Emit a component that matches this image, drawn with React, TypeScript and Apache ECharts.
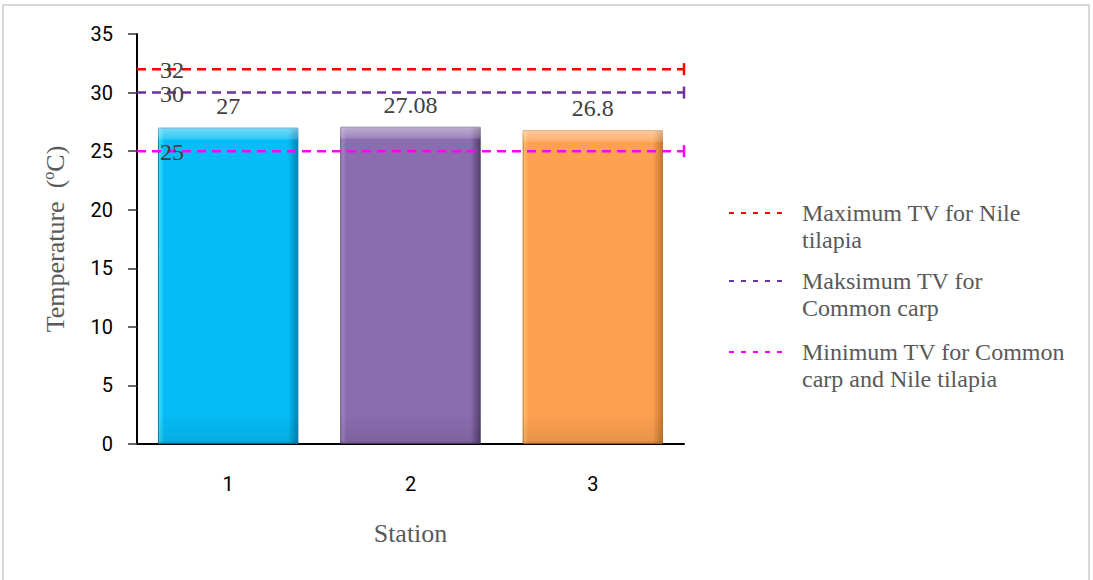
import { useEffect, useRef } from "react";
import * as echarts from "echarts";

const stations = ["1", "2", "3"];
const temperatures = [27, 27.08, 26.8];
const barColors = ["#05BCF6", "#8A6CAF", "#FDA04F"];
const barLight = ["#3CE4FF", "#A88AC8", "#FFC070"];
const barDark = ["#0083B5", "#54416F", "#C4772F"];

const yMin = 0;
const yMax = 35;
const yInterval = 5;

const thresholdNames = [
  "Maximum TV for Nile tilapia",
  "Maksimum TV for Common carp",
  "Minimum TV for Common carp and Nile tilapia",
];
const thresholdValues = [32, 30, 25];
const thresholdColors = ["#FF0000", "#7030A0", "#FF00FF"];
const legendLabels = [
  "Maximum TV for Nile\ntilapia",
  "Maksimum TV for\nCommon carp",
  "Minimum TV for Common\ncarp and Nile tilapia",
];
const legendTops = [167.5, 235.5, 306.5];

const serif = "'Liberation Serif', 'Times New Roman', serif";
const sans = "Roboto, 'Liberation Sans', sans-serif";

export default function App() {
  const ref = useRef<HTMLDivElement>(null);
  useEffect(() => {
    if (!ref.current) return;
    const chart = echarts.init(ref.current, undefined, { renderer: "svg" });

    const barSeries = {
      type: "bar",
      name: "Temperature",
      xAxisIndex: 0,
      yAxisIndex: 0,
      barWidth: "77%",
      barGap: "-100%",
      data: temperatures.map((v, i) => ({
        value: v,
        itemStyle: {
          color: new echarts.graphic.LinearGradient(0, 0, 1, 0, [
            { offset: 0, color: barLight[i] },
            { offset: 0.04, color: barColors[i] },
            { offset: 0.93, color: barColors[i] },
            { offset: 1, color: barDark[i] },
          ]),
          borderColor: barDark[i],
          borderWidth: 1,
        },
      })),
      label: {
        show: true,
        position: "top",
        distance: 10,
        fontFamily: serif,
        fontSize: 24,
        color: "#404040",
      },
    };

    const overlaySeries = {
      type: "bar",
      name: "bevel",
      silent: true,
      xAxisIndex: 0,
      yAxisIndex: 0,
      barWidth: "77%",
      barGap: "-100%",
      data: temperatures,
      itemStyle: {
        color: new echarts.graphic.LinearGradient(0, 0, 0, 1, [
          { offset: 0, color: "rgba(255,255,255,0.45)" },
          { offset: 0.035, color: "rgba(255,255,255,0.18)" },
          { offset: 0.04, color: "rgba(255,255,255,0)" },
          { offset: 0.9, color: "rgba(0,0,0,0)" },
          { offset: 0.99, color: "rgba(0,0,0,0.08)" },
          { offset: 1, color: "rgba(0,0,0,0.25)" },
        ]),
      },
    };

    const lineSeries = thresholdValues.map((v, i) => ({
      type: "line",
      name: thresholdNames[i],
      xAxisIndex: 1,
      yAxisIndex: 0,
      symbol: "none",
      clip: false,
      z: 5,
      lineStyle: { color: thresholdColors[i], width: 2.5, type: [9, 6] },
      itemStyle: { color: thresholdColors[i] },
      data: [
        {
          value: [0, v],
          symbol: "circle",
          symbolSize: 0,
          label: {
            show: true,
            position: "right",
            distance: 23,
            offset: [0, 1],
            fontFamily: serif,
            fontSize: 24,
            color: "#404040",
            formatter: String(v),
          },
        },
        {
          value: [1, v],
          symbol: "rect",
          symbolSize: [2.5, 12],
        },
      ],
    }));

    const legends = thresholdNames.map((n, i) => ({
      show: true,
      left: 723,
      top: legendTops[i],
      orient: "vertical",
      itemWidth: 60,
      itemHeight: 14,
      data: [n],
      formatter: () => "\n" + legendLabels[i],
      itemStyle: { opacity: 0 },
      lineStyle: { type: [5, 7], width: 2 },
      textStyle: {
        fontFamily: serif,
        fontSize: 24,
        lineHeight: 27,
        color: "#595959",
        padding: [0, 0, 0, 8],
      },
    }));

    chart.setOption({
      animation: false,
      backgroundColor: "#ffffff",
      grid: { left: 137, right: 409, top: 34, bottom: 136 },
      legend: legends,
      graphic: [
        {
          type: "rect",
          shape: { x: 3, y: 5, width: 1086, height: 600 },
          style: { fill: "none", stroke: "#D9D9D9", lineWidth: 2 },
          silent: true,
        },
      ],
      xAxis: [
        {
          type: "category",
          data: stations,
          name: "Station",
          nameLocation: "middle",
          nameGap: 76,
          nameTextStyle: { fontFamily: serif, fontSize: 26, color: "#595959" },
          axisLine: { lineStyle: { color: "#000000", width: 2 } },
          axisTick: { show: false },
          axisLabel: { fontFamily: sans, fontSize: 20, color: "#000000", margin: 30 },
          splitLine: { show: false },
        },
        {
          type: "value",
          min: 0,
          max: 1,
          show: false,
        },
      ],
      yAxis: [
        {
          type: "value",
          min: yMin,
          max: yMax,
          interval: yInterval,
          name: "Temperature  (ºC)",
          nameLocation: "middle",
          nameGap: 69,
          nameTextStyle: { fontFamily: serif, fontSize: 26, color: "#595959" },
          axisLine: { show: true, lineStyle: { color: "#000000", width: 2 } },
          axisTick: { show: true, length: 9, lineStyle: { color: "#333333", width: 1.5 } },
          axisLabel: { fontFamily: sans, fontSize: 20, color: "#000000", margin: 24 },
          splitLine: { show: false },
        },
      ],
      series: [barSeries, overlaySeries, ...lineSeries],
    });
    return () => chart.dispose();
  }, []);
  return (
    <div
      ref={ref}
      style={{ position: "absolute", left: 0, top: 0, width: 1093, height: 580 }}
    />
  );
}
